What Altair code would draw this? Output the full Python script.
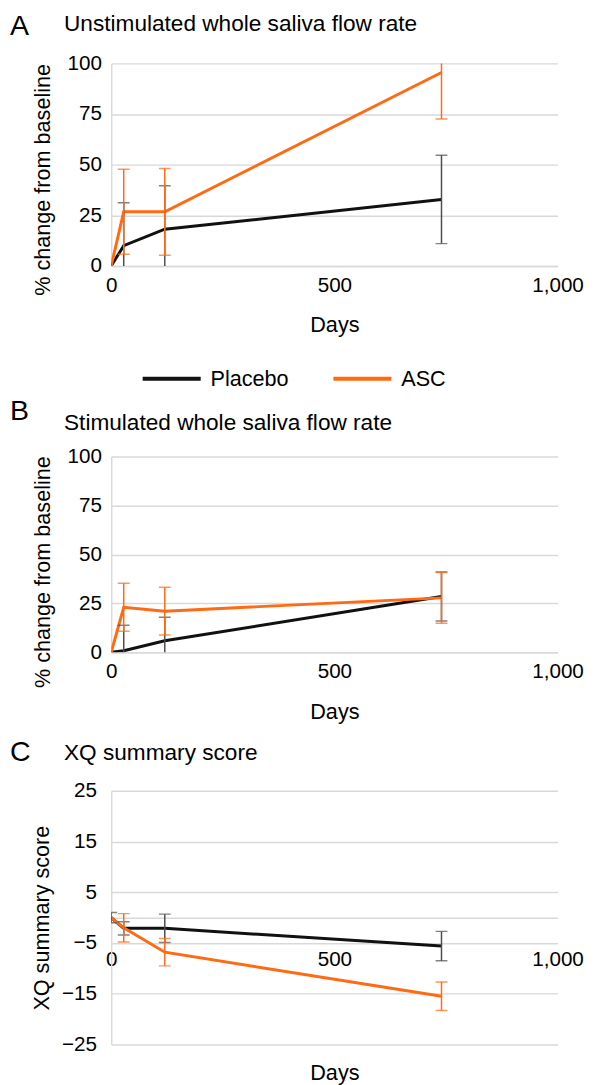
import altair as alt
import pandas as pd

# ---------------- data ----------------
days = [0, 28, 120, 740]
groups = ["Placebo", "ASC"]

a_placebo = [0, 10.0, 18.1, 32.8]
a_placebo_err = [0, 21.2, 21.5, 21.8]
a_asc = [0, 26.7, 26.7, 95.5]
a_asc_err = [0, 21.0, 21.4, 23.0]

b_placebo = [0, 0.8, 5.9, 28.5]
b_placebo_err = [0, 13.0, 12.0, 12.5]
b_asc = [0, 23.0, 21.0, 27.8]
b_asc_err = [0, 12.3, 12.2, 13.0]

c_placebo = [0, -2.1, -2.1, -5.6]
c_placebo_err = [1.0, 1.3, 2.8, 2.9]
c_asc = [0, -2.0, -6.8, -15.5]
c_asc_err = [0, 2.8, 2.7, 2.8]

x_ticks = [0, 500, 1000]
ab_y_ticks = [0, 25, 50, 75, 100]
c_y_ticks = [-25, -15, -5, 5, 15, 25]

letters = ["A", "B", "C"]
titles = {
    "A": "Unstimulated whole saliva flow rate",
    "B": "Stimulated whole saliva flow rate",
    "C": "XQ summary score",
}

# ---------------- styles ----------------
FONT = "Liberation Sans"
BLACK = "#111111"
ORANGE = "#FF6A13"
ERR_GREY = "#4d4d4d"
GRID = "#d9d9d9"


def frame(pl, pl_e, asc, asc_e):
    rows = []
    for g, m, e in (("Placebo", pl, pl_e), ("ASC", asc, asc_e)):
        for d, v, err in zip(days, m, e):
            rows.append({"day": d, "group": g, "value": v,
                         "lo": v - err, "hi": v + err, "err": err})
    return pd.DataFrame(rows)


def heading(text, size, px, py):
    # panel letter / panel heading placed above the plot area
    return alt.Chart(pd.DataFrame({"label": [text]})).mark_text(
        align="left", baseline="alphabetic", fontSize=size, font=FONT,
        color="#000").encode(text="label:N", x=alt.value(px), y=alt.value(py))


def panel(df, letter, ydom, yvals, ytitle, w, h, ytitle_y, ylabpad, ytitlepad,
          legend, xaxis_extra, letter_y, title_y):
    xaxis = alt.Axis(values=x_ticks, format=",d", title="Days", grid=False,
                     domain=True, domainColor=GRID, domainWidth=1.5,
                     ticks=False, tickSize=0, labelFlush=False,
                     labelFontSize=21, labelFont=FONT, labelColor="#000",
                     titleFontSize=22, titleFont=FONT, titleFontWeight="normal",
                     titleColor="#000", **xaxis_extra)
    yaxis = alt.Axis(values=yvals, title=ytitle, grid=True, gridColor=GRID,
                     gridWidth=1.5, domain=True, domainColor=GRID, domainWidth=1.5,
                     ticks=False, tickSize=0, labelPadding=ylabpad,
                     labelExpr="replace(datum.label, '-', '\u2212')",
                     labelFontSize=21, labelFont=FONT, labelColor="#000",
                     titleFontSize=22, titleFont=FONT, titleFontWeight="normal",
                     titleColor="#000", titleY=ytitle_y, titlePadding=ytitlepad)
    xs = alt.Scale(domain=[0, 1000], nice=False)
    ys = alt.Scale(domain=ydom, nice=False, zero=False)
    color = alt.Color("group:N", scale=alt.Scale(domain=groups, range=[BLACK, ORANGE]),
                      legend=legend)
    base = alt.Chart(df)
    line_pl = base.transform_filter(alt.datum.group == "Placebo").mark_line(
        strokeWidth=3, clip=True).encode(
        x=alt.X("day:Q", scale=xs, axis=xaxis),
        y=alt.Y("value:Q", scale=ys, axis=yaxis), color=color)
    line_asc = base.transform_filter(alt.datum.group == "ASC").mark_line(
        strokeWidth=3, clip=True).encode(
        x=alt.X("day:Q", scale=xs, axis=xaxis),
        y=alt.Y("value:Q", scale=ys, axis=yaxis), color=color)
    eb_pl = base.transform_filter(
        (alt.datum.group == "Placebo") & (alt.datum.err > 0)).mark_errorbar(
        ticks=True, size=12, thickness=1.5, color=ERR_GREY, clip=True).encode(
        x=alt.X("day:Q", scale=xs, axis=xaxis),
        y=alt.Y("lo:Q", scale=ys, axis=yaxis), y2="hi:Q")
    eb_asc = base.transform_filter(
        (alt.datum.group == "ASC") & (alt.datum.err > 0)).mark_errorbar(
        ticks=True, size=12, thickness=1.5, color=ORANGE, clip=True).encode(
        x=alt.X("day:Q", scale=xs, axis=xaxis),
        y=alt.Y("lo:Q", scale=ys, axis=yaxis), y2="hi:Q")
    return alt.layer(
        line_pl, line_asc, eb_pl, eb_asc,
        heading(letter, 29, -103, letter_y),
        heading(titles[letter], 23, -48, title_y),
    ).properties(width=w, height=h)


legend_a = alt.Legend(orient="none", legendX=30, legendY=289, direction="horizontal",
                      title=None, symbolType="stroke", symbolSize=3481,
                      symbolStrokeWidth=4, labelFontSize=22, labelFont=FONT,
                      labelColor="#000", labelOffset=8, columnPadding=37, padding=0)

std_x = dict(labelPadding=9, titlePadding=20)

pA = panel(frame(a_placebo, a_placebo_err, a_asc, a_asc_err), letters[0],
           [0, 100], ab_y_ticks, "% change from baseline", 454, 206,
           118, 10, 13, legend_a, std_x, -29, -33)
pB = panel(frame(b_placebo, b_placebo_err, b_asc, b_asc_err), letters[1],
           [0, 100], ab_y_ticks, "% change from baseline", 454, 199,
           117, 10, 13, None, std_x, -37, -27)
pC = panel(frame(c_placebo, c_placebo_err, c_asc, c_asc_err), letters[2],
           [-25, 25], c_y_ticks, "XQ summary score", 454, 258,
           129, 15, 8, None,
           dict(offset=-129, labelPadding=32, titleY=158, titleBaseline="middle"),
           -30, -31)

inner = alt.vconcat(pA, pB, spacing=8).resolve_scale(color="independent")
chart = alt.vconcat(inner, pC, spacing=17).resolve_scale(color="independent").properties(
    padding={"left": 2, "top": -5, "right": 5, "bottom": 0},
    background="white",
).configure_view(stroke=None)

chart.save("out.html", embed_options={"renderer": "svg", "actions": False})
